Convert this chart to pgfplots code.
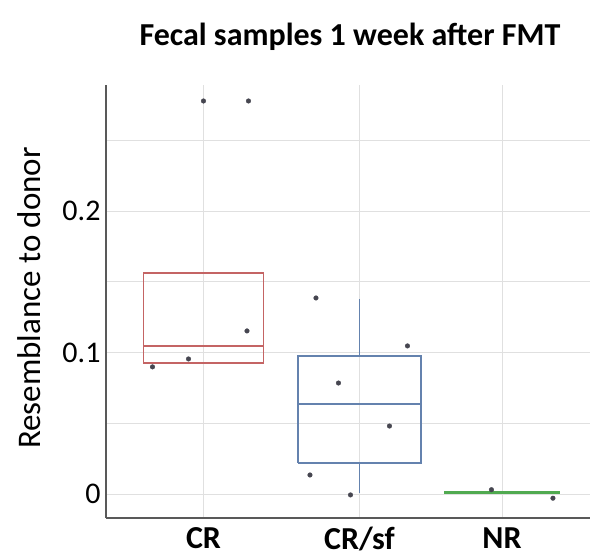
\documentclass[border=0pt]{standalone}
\usepackage{fontspec}
\setmainfont{Carlito}
\usepackage{pgfplots}
\pgfplotsset{compat=1.18}
\definecolor{crcol}{RGB}{196,100,100}
\definecolor{sfcol}{RGB}{100,130,174}
\definecolor{nrcol}{RGB}{80,170,80}
\definecolor{dotcol}{RGB}{70,70,80}
\begin{document}
\begin{tikzpicture}
\begin{axis}[
name=ax,
scale only axis,
width=484pt, height=433pt,
xmin=0.35, xmax=3.577,
ymin=-0.017, ymax=0.289,
axis lines*=left,
axis line style={draw=black!65, line width=1.3pt},
xtick={1,2.04,2.99},
xticklabels={CR,CR/sf,NR},
ytick={0,0.1,0.2},
yticklabels={0,0.1,0.2},
minor ytick={0.05,0.15,0.25},
major tick length=0pt, minor tick length=0pt,
grid=both,
major grid style={draw=black!12, line width=0.8pt},
minor grid style={draw=black!12, line width=0.8pt},
xticklabel style={font=\fontsize{32}{38}\selectfont\bfseries, yshift=-6pt},
yticklabel style={font=\fontsize{30}{36}\selectfont, xshift=-2pt},
ylabel={Resemblance to donor},
ylabel style={font=\fontsize{33}{40}\selectfont, at={(axis description cs:-0.159,0.508)}, anchor=center},
unbounded coords=jump,
clip=false,
]
% CR box (whiskers coincide with box)
\addplot[draw=crcol, line width=1.6pt, mark=none] coordinates {
(0.6,0.0926) (1.4,0.0926) (1.4,0.156) (0.6,0.156) (0.6,0.0926)
(1,nan) (0.6,0.1046) (1.4,0.1046)
};
% CR/sf box and whiskers
\addplot[draw=sfcol, line width=1.6pt, mark=none] coordinates {
(1.63,0.022) (2.45,0.022) (2.45,0.0975) (1.63,0.0975) (1.63,0.022)
(2,nan) (1.63,0.0636) (2.45,0.0636)
(2,nan) (2.04,0.0975) (2.04,0.138)
(2,nan) (2.04,0.022) (2.04,0.0007)
};
% NR collapsed box
\addplot[draw=nrcol, line width=3.5pt, mark=none] coordinates {
(2.605,0.001) (3.375,0.001)
};
% individual samples
\addplot[only marks, mark=*, mark size=2.3pt, color=dotcol] coordinates {
(1.00,0.2777) (1.30,0.2777) (1.29,0.1152) (0.90,0.0954) (0.66,0.0898)
(1.75,0.1385) (2.36,0.1046) (1.90,0.0784) (2.24,0.048) (1.71,0.0134) (1.98,-0.0007)
(2.92,0.003) (3.33,-0.003)
};
\end{axis}
\node[font=\fontsize{32}{38}\selectfont\bfseries] at (244pt,481pt) {Fecal samples 1 week after FMT};
\pgfresetboundingbox
\path (-106pt,-40pt) rectangle (488pt,518pt);
\end{tikzpicture}
\end{document}
